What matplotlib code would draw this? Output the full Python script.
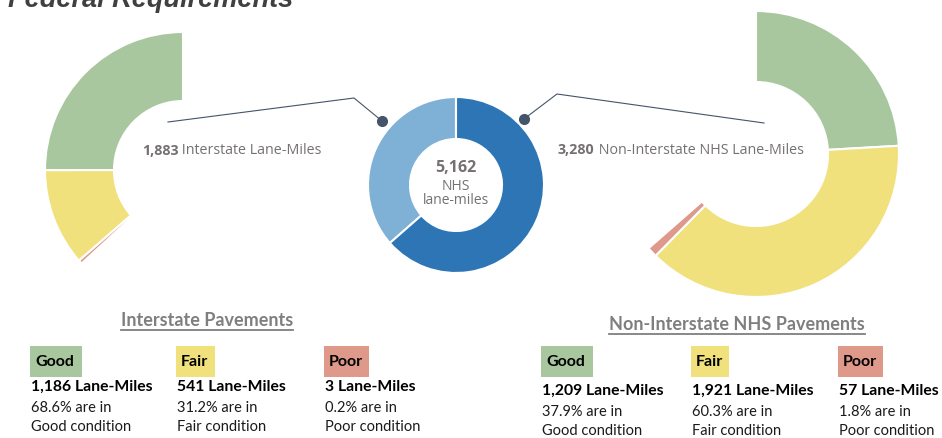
import matplotlib
matplotlib.use('Agg')
import matplotlib.pyplot as plt
from matplotlib.patches import Wedge, Rectangle

# ---- data ----
nhs_total = 5162
conditions = ['Good', 'Fair', 'Poor']
interstate_total = 1883
interstate_miles = [1186, 541, 3]
interstate_pct = [68.6, 31.2, 0.2]
non_interstate_total = 3280
non_interstate_miles = [1209, 1921, 57]
non_interstate_pct = [37.9, 60.3, 1.8]

cond_colors = ['#A8C79F', '#F0E17D', '#DE998B']
blue_light, blue_dark = '#7FB0D5', '#2E75B6'
label_gray = '#767171'
line_col = '#44546A'

W, H = 942, 438
fig = plt.figure(figsize=(W / 100, H / 100), dpi=100)
ax = fig.add_axes([0, 0, 1, 1])
ax.set_xlim(0, W)
ax.set_ylim(H, 0)
ax.set_aspect('equal')
ax.axis('off')


def arc(c, r, width, a0, a1, color):
    # a0/a1 are screen angles (ccw); y axis is inverted so negate
    ax.add_patch(Wedge(c, r, -a1, -a0, width=width, facecolor=color,
                       edgecolor='white', linewidth=1.5))


# ---- left partial donut (interstate), ccw from 12 o'clock ----
span = 360 * interstate_total / nhs_total
a = 90
for pct, col in zip(interstate_pct, cond_colors):
    s = max(pct / 100 * span, 1.6)
    arc((183, 170), 138, 69, a, a + s, col)
    a += pct / 100 * span + (0.8 if pct < 1 else 0)

# ---- right partial donut (non-interstate), cw from 12 o'clock ----
span = 360 * non_interstate_total / nhs_total
a = 90
for pct, col in zip(non_interstate_pct, cond_colors):
    s = pct / 100 * span
    arc((756, 154), 143, 71, a - s, a, col)
    a -= s

# ---- center donut ----
arc((456, 185), 88, 42, 90, 90 + 360 * interstate_total / nhs_total, blue_light)
arc((456, 185), 88, 42, 90 - 360 * non_interstate_total / nhs_total, 90, blue_dark)

ax.text(456, 168, f'{nhs_total:,}', ha='center', va='center', fontsize=11.5,
        fontweight='bold', color=label_gray, family='Open Sans')
ax.text(456, 186, 'NHS', ha='center', va='center', fontsize=10,
        color=label_gray, family='Open Sans')
ax.text(456, 201, 'lane-miles', ha='center', va='center', fontsize=10,
        color=label_gray, family='Open Sans')

# connectors
ax.plot([168, 354, 382], [122, 98, 121], color=line_col, lw=0.8)
ax.plot([382], [121], 'o', color=line_col, ms=7)
ax.plot([764, 557, 524], [123, 94, 119], color=line_col, lw=0.8)
ax.plot([524], [119], 'o', color=line_col, ms=7)


def two_part(x, y, bold, rest, size, color, fam):
    t = ax.text(x, y, bold, ha='left', va='center', fontsize=size,
                fontweight='bold', color=color, family=fam)
    ax.annotate(rest, xy=(1, 0.5), xycoords=t, ha='left', va='center',
                fontsize=size, color=color, family=fam)


two_part(142, 151, f'{interstate_total:,}', ' Interstate Lane-Miles', 10.3,
         label_gray, 'Open Sans')
two_part(558, 150, f'{non_interstate_total:,}', ' Non-Interstate NHS Lane-Miles',
         10.3, label_gray, 'Open Sans')

# title (cut off at top, as in the source)
ax.text(8, 7, 'Federal Requirements', ha='left', va='baseline', fontsize=19.5,
        fontweight='bold', style='italic', color='#404040',
        family='Liberation Sans')

# ---- bottom summary blocks ----
headers = []


def block(title, tx, ty, xs, box_w, y0, miles, pcts):
    h = ax.text(tx, ty, title, ha='center', va='center', fontsize=13,
                fontweight='bold', color='#7F7F7F', family='Lato')
    headers.append(h)
    for x, bw, cond, m, p, col in zip(xs, box_w, conditions, miles, pcts,
                                      cond_colors):
        ax.add_patch(Rectangle((x, 346), bw, 31, facecolor=col, edgecolor='none'))
        ax.text(x + 5, 362, cond, ha='left', va='center', fontsize=11.5,
                fontweight='bold', color='black', family='Lato')
        ax.text(x + 1, y0, f'{m:,} Lane-Miles', ha='left', va='center',
                fontsize=11.3, fontweight='bold', color='black', family='Lato')
        ax.text(x + 1, y0 + 21, f'{p}% are in', ha='left', va='center',
                fontsize=10.5, color='#1a1a1a', family='Lato')
        ax.text(x + 1, y0 + 40, f'{cond} condition', ha='left', va='center',
                fontsize=10.5, color='#1a1a1a', family='Lato')


block('Interstate Pavements', 207, 320, [30, 176, 324], [52, 39, 45], 387,
      interstate_miles, interstate_pct)
block('Non-Interstate NHS Pavements', 737, 324, [541, 691, 838], [52, 38, 45],
      391, non_interstate_miles, non_interstate_pct)

# underline headers
fig.canvas.draw()
inv = ax.transData.inverted()
for h in headers:
    bb = h.get_window_extent()
    (x0, y0), (x1, y1) = inv.transform([[bb.x0, bb.y0], [bb.x1, bb.y1]])
    ax.plot([x0, x1], [y0 + 1, y0 + 1], color='#7F7F7F', lw=1.3)

fig.savefig('out.png', dpi=100)
